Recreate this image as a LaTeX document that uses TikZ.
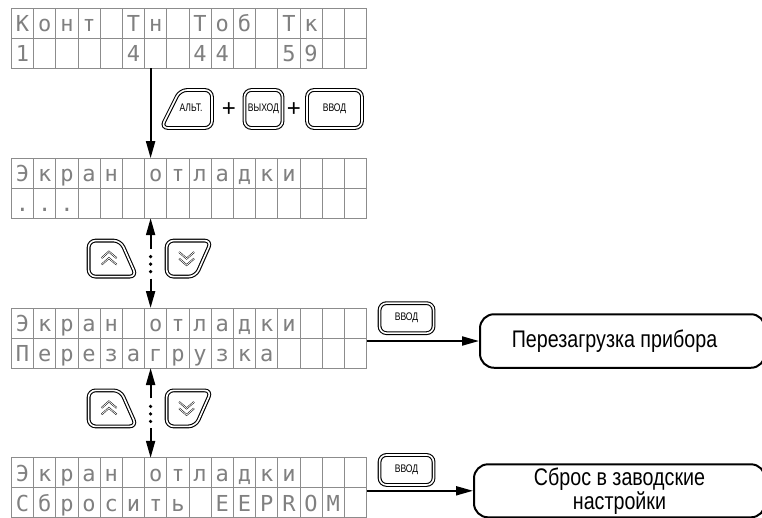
\documentclass[tikz,border=0pt]{standalone}
\usepackage{fontspec}
\setmainfont{Liberation Sans}
\newfontfamily\lcdfont{DejaVu Sans Mono}
\newfontfamily\narrowfont[FakeStretch=0.82]{Liberation Sans}
\newfontfamily\keyfont[FakeStretch=0.78]{Liberation Sans}
\usetikzlibrary{matrix,positioning,arrows.meta}

\begin{document}
\begin{tikzpicture}[x=1pt,y=-1pt,
disp/.style={matrix of nodes,nodes in empty cells,inner sep=0pt,outer sep=0pt,
 nodes={draw=black!45,line width=.8pt,anchor=center,minimum width=22.2pt,minimum height=30pt,inner sep=0pt,text height=16.8pt,text depth=0pt,text=black!50,font=\lcdfont\fontsize{22}{22}\selectfont},
 column sep=-.8pt,row sep=-.8pt},
conn/.style={line width=2pt,-{Triangle[length=17pt,width=9pt]}},
keyline/.style={draw,line width=1.1pt,double,double distance=1.6pt,rounded corners=7pt},
keytext/.style={font=\keyfont\fontsize{11}{12}\selectfont},
key/.style={keyline,keytext,inner sep=0pt},
chev/.style={line width=.5pt,double,double distance=.7pt},
res/.style={draw,line width=2pt,rounded corners=14pt,inner sep=0pt,font=\narrowfont\fontsize{24}{18}\selectfont}]
\fill[white] (0,0) rectangle (762,517);
\useasboundingbox (0,0) rectangle (762,517);
\clip (0,0) rectangle (762,517);

\matrix[disp,anchor=north west] (D1) at (11,8) {
К & о & н & т & & Т & н & & Т & о & б & & Т & к & & \\
1 & & & & & 4 & & & 4 & 4 & & & 5 & 9 & & \\
};
\matrix[disp,below=89pt of D1] (D2) {
Э & к & р & а & н & & о & т & л & а & д & к & и & & & \\
. & . & . & & & & & & & & & & & & & \\
};
\matrix[disp,below=89pt of D2] (D3) {
Э & к & р & а & н & & о & т & л & а & д & к & и & & & \\
П & е & р & е & з & а & г & р & у & з & к & а & & & & \\
};
\matrix[disp,below=89pt of D3] (D4) {
Э & к & р & а & н & & о & т & л & а & д & к & и & & & \\
С & б & р & о & с & и & т & ь & & E & E & P & R & O & M & \\
};

\draw[conn] ([xshift=6pt]D1-2-7.south west) -- ([xshift=6pt]D2-1-7.north west);
\node[keytext] (alt) at (191,108) {АЛЬТ.};
\draw[keyline,shift={(alt)}] (5,-18) -- (21,-18) -- (21,20) -- (-30,20) -- (-11,-18) -- cycle;
\node[font=\fontsize{24}{24}\selectfont] (plus1) at (229,110) {+};
\node[key,minimum width=38pt,minimum height=38pt] (exit) at (263.5,109) {ВЫХОД};
\node[font=\fontsize{24}{24}\selectfont] (plus2) at (294,110) {+};
\node[key,minimum width=55pt,minimum height=38pt] (enter) at (334.5,109) {ВВОД};

\foreach \a/\b in {D2/D3,D3/D4}{
  \path ([xshift=6pt]\a-2-7.south west) -- coordinate[pos=.5] (m\a) ([xshift=6pt]\b-1-7.north west);
  \draw[conn] ([shift={(0,-14.5)}]m\a) -- ([xshift=6pt]\a-2-7.south west);
  \draw[conn] ([shift={(0,15.5)}]m\a) -- ([xshift=6pt]\b-1-7.north west);
  \foreach \d in {-6.5,1,8.5} \fill ([shift={(0,\d)}]m\a) circle (1.8pt);
  \draw[keyline,shift={(m\a)}] (-62,-4.5) -- (-62,-22.5) -- (-30,-22.5) -- (-14,13.5) -- (-62,13.5) -- cycle;
  \draw[chev,shift={(m\a)}] (-49,-5) -- (-41.7,-11.5) -- (-34,-5) (-49,1.5) -- (-41.7,-5) -- (-34,1.5);
  \draw[keyline,shift={(m\a)}] (16,-4.5) -- (16,-22.5) -- (61,-22.5) -- (45,13.5) -- (16,13.5) -- cycle;
  \draw[chev,shift={(m\a)}] (28.5,-11) -- (36,-4.5) -- (43.5,-11) (28.5,-4.5) -- (36,2) -- (43.5,-4.5);
}

\node[key,minimum width=54pt,minimum height=30pt,anchor=north west] (ok1) at ([shift={(12,-5)}]D3.north east) {ВВОД};
\node[key,minimum width=54pt,minimum height=30pt,anchor=north west] (ok2) at ([shift={(12,-3)}]D4.north east) {ВВОД};
\node[res,minimum width=285pt,minimum height=53.5pt,anchor=west] (r1) at ([shift={(112,3)}]D3.east) {\hspace*{-16pt}Перезагрузка прибора};
\node[res,align=center,minimum width=291pt,minimum height=53pt,anchor=west] (r2) at ([shift={(106,3)}]D4.east) {Сброс в заводские\\настройки};
\draw[conn] (D3.east |- r1.west) -- (r1.west);
\draw[conn] (D4.east |- r2.west) -- (r2.west);
\end{tikzpicture}
\end{document}
